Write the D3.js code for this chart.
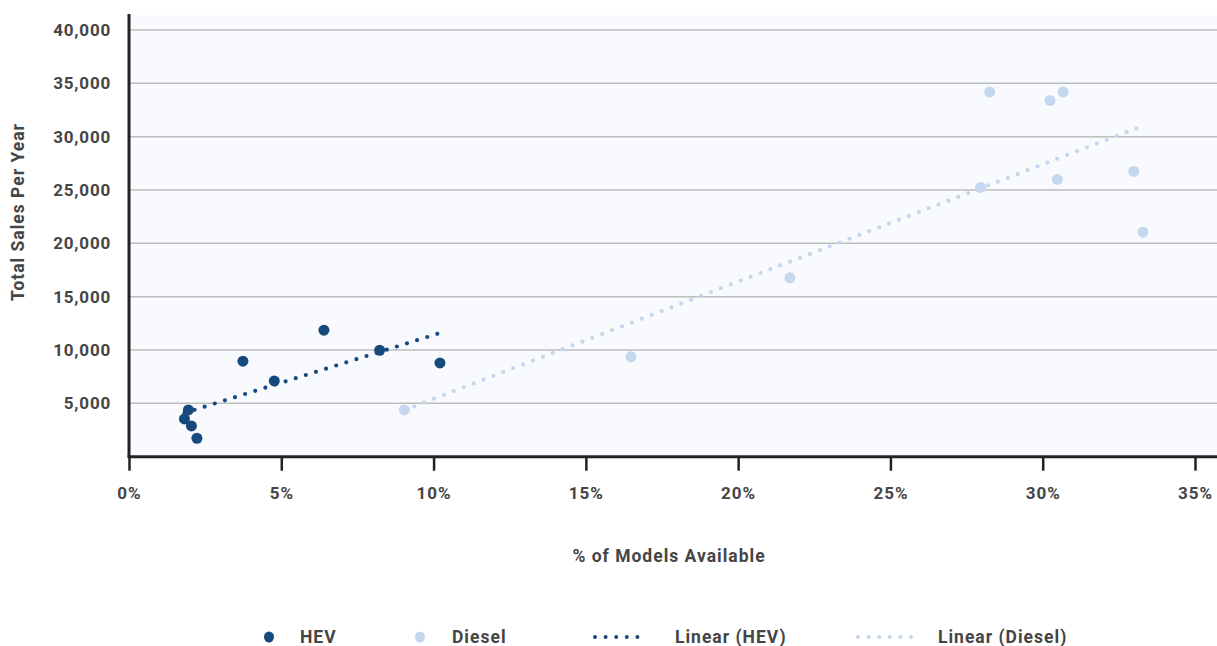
<!DOCTYPE html>
<html>
<head>
<meta charset="utf-8">
<script src="https://cdn.jsdelivr.net/npm/d3@7"></script>
<style>
  body { margin: 0; background: #fff; }
  svg text { font-family: Roboto, "DejaVu Sans", sans-serif; font-weight: 700; fill: #454545; }
</style>
</head>
<body>
<svg width="1217" height="646"></svg>
<script>
// values: % of models available, total sales per year
const hevShare = [1.95, 1.82, 2.05, 2.23, 3.74, 4.77, 6.40, 8.23, 10.21];
const hevSales = [4380, 3540, 2880, 1730, 8950, 7100, 11860, 9980, 8790];
const dieselShare = [9.04, 16.48, 21.70, 27.96, 28.26, 30.24, 30.67, 30.48, 32.99, 33.29];
const dieselSales = [4380, 9360, 16770, 25240, 34190, 33400, 34190, 25990, 26740, 21050];
const xTicks = [0, 5, 10, 15, 20, 25, 30, 35];
const yTicks = [5000, 10000, 15000, 20000, 25000, 30000, 35000, 40000];
const seriesNames = ["HEV", "Diesel", "Linear (HEV)", "Linear (Diesel)"];

const HEV_COL = "#174a7c", DIESEL_COL = "#c4d7ee";

const svg = d3.select("svg"),
   plotLeft = 129, plotTop = 30, plotBottom = 456.7, plotRight = 1217;

var x = d3.scaleLinear().domain([0, 35]).range([plotLeft, 1195]),
   y = d3.scaleLinear().domain([0, 40000]).range([plotBottom, plotTop]);

// plot background
svg.append("rect")
   .attr("x", plotLeft).attr("y", 15)
   .attr("width", plotRight - plotLeft).attr("height", plotBottom - 15)
   .attr("fill", "#f9fafd");

// grid lines
svg.append("g").selectAll("line")
   .data(yTicks)
   .enter().append("line")
   .attr("x1", plotLeft).attr("x2", plotRight)
   .attr("y1", d => y(d)).attr("y2", d => y(d))
   .attr("stroke", "#bdbdbd").attr("stroke-width", 1.5);

// y labels
svg.append("g").selectAll("text")
   .data(yTicks)
   .enter().append("text")
   .attr("x", 111).attr("y", d => y(d))
   .attr("dy", "0.35em")
   .attr("text-anchor", "end")
   .attr("font-size", 17)
   .attr("letter-spacing", 0.8)
   .text(d => d3.format(",")(d));

// x axis with ticks below
const xAxis = svg.append("g")
   .attr("transform", "translate(0," + plotBottom + ")")
   .call(d3.axisBottom(x).tickValues(xTicks).tickSize(14).tickPadding(16).tickFormat(d => d + "%"));
xAxis.select(".domain").remove();
xAxis.selectAll(".tick line").attr("stroke", "#222").attr("stroke-width", 2.5);
xAxis.selectAll(".tick text")
   .attr("font-size", 17).attr("letter-spacing", 1)
   .attr("font-family", null).attr("fill", "#454545");

svg.append("line")
   .attr("x1", plotLeft - 1.5).attr("x2", plotRight)
   .attr("y1", plotBottom).attr("y2", plotBottom)
   .attr("stroke", "#222").attr("stroke-width", 3);
svg.append("line")
   .attr("x1", plotLeft).attr("x2", plotLeft)
   .attr("y1", 14).attr("y2", plotBottom)
   .attr("stroke", "#222").attr("stroke-width", 3);

// axis titles
svg.append("text")
   .attr("x", 669).attr("y", 562)
   .attr("text-anchor", "middle").attr("font-size", 17.5)
   .attr("letter-spacing", 1)
   .text("% of Models Available");
svg.append("text")
   .attr("transform", "translate(24,212) rotate(-90)")
   .attr("text-anchor", "middle").attr("font-size", 17.5)
   .attr("letter-spacing", 1)
   .text("Total Sales Per Year");

// least squares trend, drawn from min to max x
function trend(xs, ys) {
   const mx = d3.mean(xs), my = d3.mean(ys);
   const slope = d3.sum(xs, (v, i) => (v - mx) * (ys[i] - my)) / d3.sum(xs, v => (v - mx) * (v - mx));
   const x0 = d3.min(xs), x1 = d3.max(xs);
   return [[x0, my + slope * (x0 - mx)], [x1, my + slope * (x1 - mx)]];
}

function dotted(g, pts, col) {
   g.append("path")
      .attr("d", d3.line().x(d => x(d[0])).y(d => y(d[1]))(pts))
      .attr("fill", "none")
      .attr("stroke", col)
      .attr("stroke-width", 4.2)
      .attr("stroke-linecap", "round")
      .attr("stroke-dasharray", "0 10.6");
}

const plot = svg.append("g");
dotted(plot, trend(dieselShare, dieselSales), DIESEL_COL);
plot.append("g").selectAll("circle")
   .data(dieselShare)
   .enter().append("circle")
   .attr("cx", d => x(d))
   .attr("cy", (d, i) => y(dieselSales[i]))
   .attr("r", 5.5)
   .attr("fill", DIESEL_COL);

dotted(plot, trend(hevShare, hevSales), HEV_COL);
plot.append("g").selectAll("circle")
   .data(hevShare)
   .enter().append("circle")
   .attr("cx", d => x(d))
   .attr("cy", (d, i) => y(hevSales[i]))
   .attr("r", 5.5)
   .attr("fill", HEV_COL);

// legend
const ly = 637;
const legend = svg.append("g");
legend.append("ellipse").attr("cx", 269).attr("cy", ly).attr("rx", 5).attr("ry", 5.5).attr("fill", HEV_COL);
legend.append("ellipse").attr("cx", 420).attr("cy", ly).attr("rx", 5).attr("ry", 5.5).attr("fill", DIESEL_COL);
[[595, 648, HEV_COL], [858, 912, DIESEL_COL]].forEach(s => {
   legend.append("line")
      .attr("x1", s[0]).attr("x2", s[1])
      .attr("y1", ly).attr("y2", ly)
      .attr("stroke", s[2]).attr("stroke-width", 4)
      .attr("stroke-linecap", "round")
      .attr("stroke-dasharray", "0 10.6");
});
legend.selectAll("text")
   .data(seriesNames)
   .enter().append("text")
   .attr("x", (d, i) => [300, 452, 675, 938][i])
   .attr("y", ly).attr("dy", "0.35em")
   .attr("font-size", 17.5)
   .attr("letter-spacing", 1)
   .text(d => d);
</script>
</body>
</html>
